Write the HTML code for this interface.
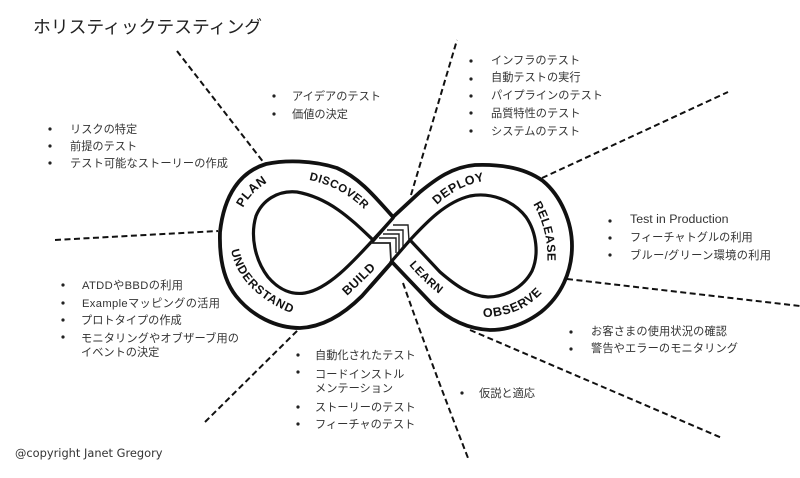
<!DOCTYPE html>
<html lang="ja">
<head>
<meta charset="utf-8">
<title>ホリスティックテスティング</title>
<style>
html,body{margin:0;padding:0;background:#fff;width:800px;height:478px;overflow:hidden}
svg{display:block}
.t{font-family:"Liberation Sans","Noto Sans CJK JP",sans-serif;font-size:11.2px;fill:#333}
.h{font-family:"Liberation Sans",sans-serif;font-size:12.5px;font-weight:bold;fill:#111;letter-spacing:.5px}
.d{fill:none;stroke:#111;stroke-width:2;stroke-dasharray:6 3.5}
.o{fill:none;stroke:#111;stroke-width:3.8;stroke-linejoin:round;stroke-linecap:round}
.i{fill:none;stroke:#111;stroke-width:3.2;stroke-linejoin:round;stroke-linecap:round}
.c{fill:none;stroke:#222;stroke-width:1.4}
</style>
</head>
<body>
<svg width="800" height="478" viewBox="0 0 800 478" xmlns="http://www.w3.org/2000/svg">
<defs>
<path id="pPlan" d="M243 208 Q252 190 272 180"/>
<path id="pDisc" d="M309 180 Q340 186 364 209"/>
<path id="pUnd" d="M231 250 Q240 296 304 318"/>
<path id="pBuild" d="M347 296 Q362 282 377 267"/>
<path id="pDep" d="M437 205 Q455 187 483 181"/>
<path id="pRel" d="M533 204 Q550 232 547 270"/>
<path id="pLearn" d="M409 265 Q426 285 446 299"/>
<path id="pObs" d="M483 317 Q520 317 543 292"/>
</defs>

<!-- Dashed connectors -->
<path class="d" d="M177 51 L264 163"/>
<path class="d" d="M55 240 L218 231"/>
<path class="d" d="M205 422 L300 328"/>
<path class="d" d="M403 283 Q430 360 468 458"/>
<path class="d" d="M470 330 L722 438"/>
<path class="d" d="M567 279 L800 306"/>
<path class="d" d="M542 178 L728 92"/>
<path class="d" d="M411 195 L457 40"/>

<!-- Left loop -->
<path class="o" d="M393 217 C376 198 360 178 337 168 C312 160 285 160 266 164 C240 172 224 195 220 232 C219 262 225 282 236 296 C252 316 276 328 300 328 C324 327 345 313 362 296 L392 262"/>
<path class="i" d="M373 240 C352 220 330 198 297 192 C277 190 262 201 256 216 C250 236 255 260 268 277 C279 290 292 295 305 293 C328 289 352 263 373 240 L393 218"/>

<!-- Right loop -->
<path class="o" d="M393 217 L420 192 C436 179 452 167 475 165 C500 164 525 168 543 181 C561 196 572 222 572 246 C572 272 561 296 541 312 C525 324 508 330 490 330 C468 329 449 320 432 304 L392 262 L370 287"/>
<path class="i" d="M392 260 L410 240 C425 224 445 202 470 196 C490 192 513 200 526 217 C537 233 539 255 532 271 C523 288 505 297 488 297 C470 296 455 285 440 272 L410 240"/>

<!-- Chevrons -->
<path d="M372 243 L391 224 L409 224 L409 240 L391 261 Z" fill="#fff" stroke="none"/>
<polyline class="c" points="393,225 408,225 409,241"/>
<polyline class="c" points="387,230 403,230 403,248"/>
<polyline class="c" points="383,234 399,234 399,251"/>
<polyline class="c" points="379,238 396,238 396,253"/>
<polyline class="c" points="371,243 390,243 391,261" style="stroke-width:1.8"/>
<path class="i" d="M373 241 L393 218"/>
<path class="i" d="M391 262 L410 240"/>

<!-- Hand-lettered labels -->
<text class="h"><textPath href="#pPlan">PLAN</textPath></text>
<text class="h" style="font-size:11.5px"><textPath href="#pDisc">DISCOVER</textPath></text>
<text class="h" style="font-size:12px;letter-spacing:.9px"><textPath href="#pUnd">UNDERSTAND</textPath></text>
<text class="h"><textPath href="#pBuild">BUILD</textPath></text>
<text class="h"><textPath href="#pDep">DEPLOY</textPath></text>
<text class="h" style="font-size:12px"><textPath href="#pRel">RELEASE</textPath></text>
<text class="h" style="font-size:11.5px"><textPath href="#pLearn">LEARN</textPath></text>
<text class="h" style="font-size:12.5px;letter-spacing:.8px"><textPath href="#pObs">OBSERVE</textPath></text>

<!-- Title -->
<text x="33" y="33" font-family="'Liberation Sans','Noto Sans CJK JP',sans-serif" font-size="17.8" fill="#222">ホリスティックテスティング</text>

<g fill="#222">
<circle cx="50" cy="129" r="1.6"/><circle cx="50" cy="146" r="1.6"/><circle cx="50" cy="163" r="1.6"/>
<circle cx="274" cy="96" r="1.6"/><circle cx="274" cy="114" r="1.6"/>
<circle cx="471" cy="61" r="1.6"/><circle cx="471" cy="79" r="1.6"/><circle cx="471" cy="96" r="1.6"/><circle cx="471" cy="113" r="1.6"/><circle cx="471" cy="131" r="1.6"/>
<circle cx="610" cy="221" r="1.6"/><circle cx="610" cy="238" r="1.6"/><circle cx="610" cy="255" r="1.6"/>
<circle cx="571" cy="332" r="1.6"/><circle cx="571" cy="349" r="1.6"/>
<circle cx="462" cy="393" r="1.6"/>
<circle cx="298" cy="355" r="1.6"/><circle cx="298" cy="372" r="1.6"/><circle cx="298" cy="407" r="1.6"/><circle cx="298" cy="424" r="1.6"/>
<circle cx="63" cy="285" r="1.6"/><circle cx="63" cy="303" r="1.6"/><circle cx="63" cy="320" r="1.6"/><circle cx="63" cy="337" r="1.6"/>
</g>

<text class="t" x="70" y="133">リスクの特定</text>
<text class="t" x="70" y="150">前提のテスト</text>
<text class="t" x="70" y="167" textLength="158">テスト可能なストーリーの作成</text>

<text class="t" x="292" y="100">アイデアのテスト</text>
<text class="t" x="292" y="118">価値の決定</text>

<text class="t" x="491" y="64">インフラのテスト</text>
<text class="t" x="491" y="81">自動テストの実行</text>
<text class="t" x="491" y="99" textLength="112">パイプラインのテスト</text>
<text class="t" x="491" y="117">品質特性のテスト</text>
<text class="t" x="491" y="135">システムのテスト</text>

<text class="t" x="630" y="223" style="font-size:12.4px">Test in Production</text>
<text class="t" x="630" y="241">フィーチャトグルの利用</text>
<text class="t" x="630" y="259" textLength="141">ブルー/グリーン環境の利用</text>

<text class="t" x="591" y="335" textLength="136">お客さまの使用状況の確認</text>
<text class="t" x="591" y="352" textLength="147">警告やエラーのモニタリング</text>

<text class="t" x="479" y="397">仮説と適応</text>

<text class="t" x="315" y="359">自動化されたテスト</text>
<text class="t" x="315" y="378">コードインストル</text>
<text class="t" x="315" y="392">メンテーション</text>
<text class="t" x="315" y="411">ストーリーのテスト</text>
<text class="t" x="315" y="428">フィーチャのテスト</text>

<text class="t" x="82" y="289" textLength="101">ATDDやBBDの利用</text>
<text class="t" x="82" y="307" textLength="138">Exampleマッピングの活用</text>
<text class="t" x="81" y="324">プロトタイプの作成</text>
<text class="t" x="81" y="342" textLength="158">モニタリングやオブザーブ用の</text>
<text class="t" x="81" y="356">イベントの決定</text>

<text x="15" y="457" font-family="'DejaVu Sans','Liberation Sans',sans-serif" font-size="11.4" fill="#333">@copyright Janet Gregory</text>
</svg>
</body>
</html>
